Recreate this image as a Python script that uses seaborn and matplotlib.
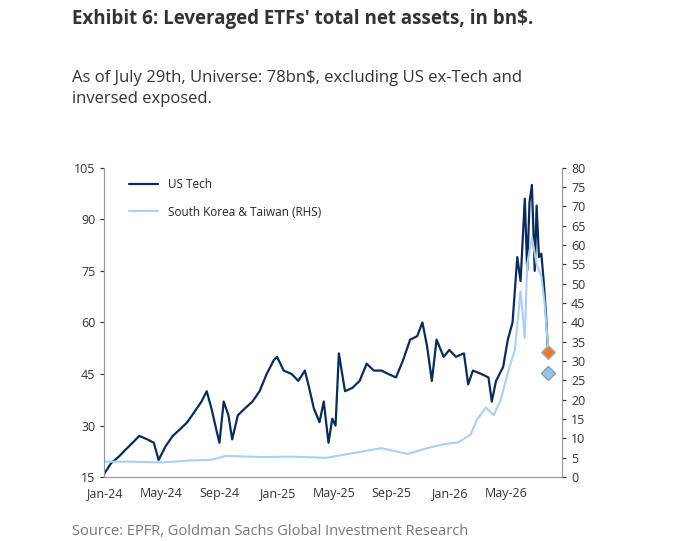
import pandas as pd
import matplotlib.pyplot as plt
import matplotlib.dates as mdates
import seaborn as sns

sns.set_style('white')
plt.rcParams['font.family'] = ['Open Sans', 'DejaVu Sans']

us_dates = ['2024-01-01', '2024-01-15', '2024-02-01', '2024-02-15', '2024-03-01', '2024-03-15', '2024-04-01',
            '2024-04-15', '2024-04-25', '2024-05-10', '2024-05-25', '2024-06-10', '2024-06-25', '2024-07-10',
            '2024-07-25', '2024-08-05', '2024-08-15', '2024-08-25', '2024-09-01', '2024-09-10', '2024-09-20',
            '2024-09-28', '2024-10-10', '2024-10-25', '2024-11-10', '2024-11-25', '2024-12-10', '2024-12-25',
            '2025-01-01', '2025-01-15', '2025-02-01', '2025-02-15', '2025-03-01', '2025-03-10', '2025-03-20',
            '2025-04-01', '2025-04-10', '2025-04-20', '2025-04-28', '2025-05-05', '2025-05-12', '2025-05-25',
            '2025-06-10', '2025-06-25', '2025-07-10', '2025-07-25', '2025-08-10', '2025-08-25', '2025-09-10',
            '2025-09-25', '2025-10-10', '2025-10-25', '2025-11-05', '2025-11-15', '2025-11-25', '2025-12-05',
            '2025-12-20', '2026-01-01', '2026-01-15', '2026-02-01', '2026-02-10', '2026-02-20', '2026-03-10',
            '2026-03-25', '2026-04-01', '2026-04-10', '2026-04-25', '2026-05-05', '2026-05-15', '2026-05-25',
            '2026-06-01', '2026-06-10', '2026-06-15', '2026-06-20', '2026-06-25', '2026-07-01', '2026-07-05',
            '2026-07-10', '2026-07-15', '2026-07-20', '2026-07-25', '2026-07-29']
us_tech = [16, 19, 21, 23, 25, 27, 26, 25, 20, 24, 27, 29, 31, 34, 37, 40, 35, 29, 25, 37, 33, 26, 33, 35, 37,
           40, 45, 49, 50, 46, 45, 43, 46, 41, 35, 31, 37, 25, 32, 30, 51, 40, 41, 43, 48, 46, 46, 45, 44, 49,
           55, 56, 60, 53, 43, 55, 50, 52, 50, 51, 42, 46, 45, 44, 37, 43, 47, 55, 60, 79, 72, 96, 75, 95, 100,
           75, 94, 79, 80, 72, 62, 52]

kt_dates = ['2024-01-01', '2024-03-01', '2024-05-01', '2024-07-01', '2024-08-15', '2024-09-15', '2024-12-01',
            '2025-02-01', '2025-04-15', '2025-06-01', '2025-08-10', '2025-10-05', '2025-11-15', '2025-12-20',
            '2026-01-20', '2026-02-15', '2026-03-01', '2026-03-20', '2026-04-05', '2026-04-20', '2026-05-05',
            '2026-05-20', '2026-06-01', '2026-06-10', '2026-06-15', '2026-06-25', '2026-07-05', '2026-07-15',
            '2026-07-22', '2026-07-29']
kor_tw = [4, 4, 3.8, 4.3, 4.5, 5.5, 5.2, 5.3, 5, 6, 7.5, 6, 7.5, 8.5, 9, 11, 15, 18, 16, 20, 27, 33, 48, 36,
          55, 62, 55, 52, 45, 34]

us_last = 51.5
kt_last = 27

us = pd.DataFrame({'date': pd.to_datetime(us_dates), 'val': us_tech})
kt = pd.DataFrame({'date': pd.to_datetime(kt_dates), 'val': kor_tw})

fig = plt.figure(figsize=(7, 5.41), dpi=100)
ax = fig.add_axes([0.149, 0.118, 0.654, 0.572])
ax2 = ax.twinx()

navy = '#0b2c5a'
light = '#a9d0f0'
sns.lineplot(data=kt, x='date', y='val', ax=ax2, color=light, lw=1.5, label='South Korea & Taiwan (RHS)', legend=False)
sns.lineplot(data=us, x='date', y='val', ax=ax, color=navy, lw=1.6, label='US Tech', legend=False)
ax.plot(pd.Timestamp('2026-07-29'), us_last, marker='D', color='#e07b39', mec='#b0b0b0', ms=7, zorder=5)
ax2.plot(pd.Timestamp('2026-07-29'), kt_last, marker='D', color='#9cc3e4', mec='#7a9fc0', ms=7, zorder=5)

ax.set_ylim(15, 105)
ax.set_yticks(range(15, 106, 15))
ax2.set_ylim(0, 80)
ax2.set_yticks(range(0, 81, 5))
ax.set_xlim(pd.Timestamp('2024-01-01'), pd.Timestamp('2026-08-28'))
ax.xaxis.set_major_locator(mdates.MonthLocator(bymonth=[1, 5, 9]))
ax.xaxis.set_major_formatter(mdates.DateFormatter('%b-%y'))
for a in (ax, ax2):
    a.set_xlabel('')
    a.set_ylabel('')
    a.tick_params(labelsize=9, colors='#333333', length=3)
    a.spines['top'].set_visible(False)
    for s in ('left', 'right', 'bottom'):
        a.spines[s].set_color('#999999')
ax.tick_params(axis='x', labelsize=9, pad=4)

h1, l1 = ax.get_legend_handles_labels()
h2, l2 = ax2.get_legend_handles_labels()
ax.legend(h1 + h2, l1 + l2, loc='upper left', bbox_to_anchor=(0.03, 1.0), frameon=False,
          fontsize=8.5, handlelength=2.5, labelspacing=1.2)

fig.text(0.103, 0.955, "Exhibit 6: Leveraged ETFs' total net assets, in bn$.", fontsize=13.5,
         fontweight='bold', color='#333333')
fig.text(0.103, 0.81, 'As of July 29th, Universe: 78bn$, excluding US ex-Tech and\ninversed exposed.',
         fontsize=12, color='#333333', linespacing=1.4)
fig.text(0.103, 0.012, 'Source: EPFR, Goldman Sachs Global Investment Research', fontsize=10.5, color='#777777')

plt.savefig('out.png', dpi=100)
